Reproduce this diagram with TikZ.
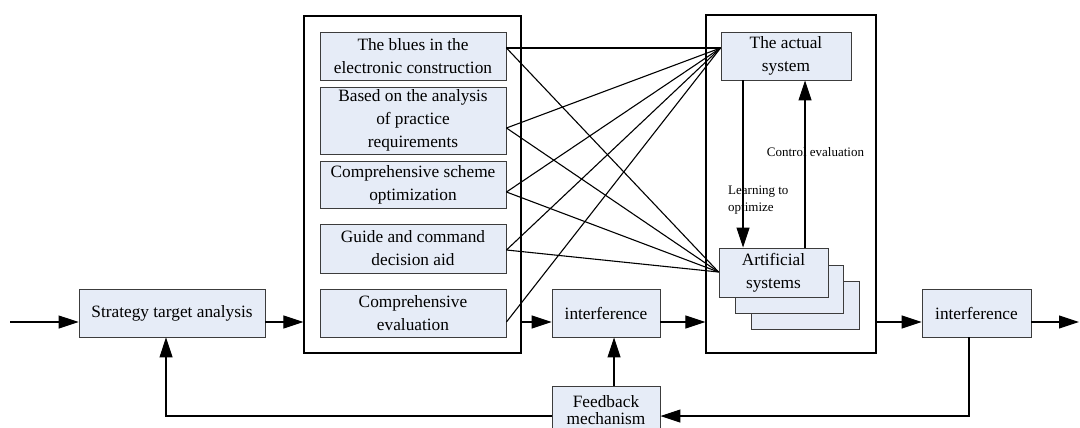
\documentclass[tikz,border=0pt]{standalone}
\usepackage{fontspec}
\setmainfont{Liberation Serif}
\usetikzlibrary{arrows.meta,calc}
\definecolor{boxfill}{RGB}{230,236,247}
\definecolor{boxline}{RGB}{60,60,60}
\begin{document}
\begin{tikzpicture}[x=1pt,y=-1pt,
  box/.style={draw=boxline, line width=0.9pt, fill=boxfill, inner sep=0pt, align=center, font=\fontsize{17.3}{23}\selectfont},
  frame/.style={draw=black, line width=1.2pt, inner sep=0pt},
  conn/.style={line width=1.1pt, draw=black},
  arr/.style={conn, -{Triangle[length=20pt,width=13pt]}},
  lab/.style={font=\fontsize{13}{16.5}\selectfont, inner sep=0pt}]
\useasboundingbox (0,0) rectangle (1080,428);
\clip (0,0) rectangle (1080,428);

% frames
\node[frame, minimum width=217pt, minimum height=337pt] (outerL) at (412.5,184.5) {};
\node[frame, minimum width=170pt, minimum height=338pt] (outerR) at (791,184) {};

% left column
\node[box, minimum width=186pt, minimum height=48pt] (sta) at (172,313) {Strategy target analysis};
\node[box, minimum width=186pt, minimum height=48pt] (b1) at (413,56) {The blues in the\\electronic construction};
\node[box, minimum width=186pt, minimum height=67pt] (b2) at (413,120.5) {Based on the analysis\\of practice\\requirements};
\node[box, minimum width=186pt, minimum height=47pt] (b3) at (413,184.5) {Comprehensive scheme\\optimization};
\node[box, minimum width=186pt, minimum height=49pt] (b4) at (413,248.5) {Guide and command\\decision aid};
\node[box, minimum width=186pt, minimum height=48pt] (b5) at (413,313) {Comprehensive\\evaluation};

% middle
\node[box, minimum width=108pt, minimum height=48pt] (int1) at (606,313) {interference};
\node[box, minimum width=108pt, minimum height=48pt, font=\fontsize{17.3}{17}\selectfont] (fb) at (606,410) {Feedback\\mechanism};

% right frame content
\node[box, minimum width=130pt, minimum height=48pt] (act) at (786,56) {The actual\\system};
\node[box, minimum width=108pt, minimum height=48pt] (art3) at (805,305) {};
\node[box, minimum width=108pt, minimum height=48pt] (art2) at (789,289) {};
\node[box, minimum width=109pt, minimum height=49pt] (art1) at (773.5,272.5) {Artificial\\systems};

% far right
\node[box, minimum width=109pt, minimum height=48pt] (int2) at (976.5,313) {interference};

% connection points
\coordinate (s1) at ([yshift=8pt]b1.east);
\coordinate (s2) at ([yshift=-7.5pt]b2.east);
\coordinate (s3) at ([yshift=-7.5pt]b3.east);
\coordinate (s4) at ([yshift=-1.5pt]b4.east);
\coordinate (s5) at ([yshift=-9pt]b5.east);
\coordinate (tA) at ([yshift=8pt]act.west);
\coordinate (tB) at ([yshift=0.5pt]art1.west);
\coordinate (in) at (10,322);
\coordinate (out) at (1079,322);

% cross connections
\foreach \s in {s1,s2,s3,s4,s5} \draw[conn] (\s) -- (tA);
\foreach \s in {s1,s2,s3,s4} \draw[conn] (\s) -- (tB);

% main flow
\draw[arr] (in) -- (in -| sta.west);
\draw[arr] (in -| sta.east) -- (in -| outerL.west);
\draw[arr] (s5 -| outerL.east) -- (s5 -| int1.west);
\draw[arr] (s5 -| int1.east) -- (s5 -| outerR.west);
\draw[arr] (s5 -| outerR.east) -- (s5 -| int2.west);
\draw[arr] (s5 -| int2.east) -- (out);

% feedback
\draw[arr] ([xshift=-7.5pt]int2.south) |- ([yshift=-6pt]fb.east);
\draw[arr] ([yshift=-6pt]fb.west) -| ([xshift=-6pt]sta.south);
\draw[arr] ([xshift=8pt]fb.north) -- ([xshift=8pt]int1.south);

% inner loop
\draw[arr] ([xshift=-43pt]act.south) -- ([xshift=-43pt]act.south |- art1.north);
\draw[arr] ([xshift=31.5pt]art1.north) -- ([xshift=31.5pt]art1.north |- act.south);
\node[lab] (ce) at (815.5,152) {Control evaluation};
\node[lab, anchor=west, align=left] (lo) at (728,200) {Learning to\\optimize};
\end{tikzpicture}
\end{document}
